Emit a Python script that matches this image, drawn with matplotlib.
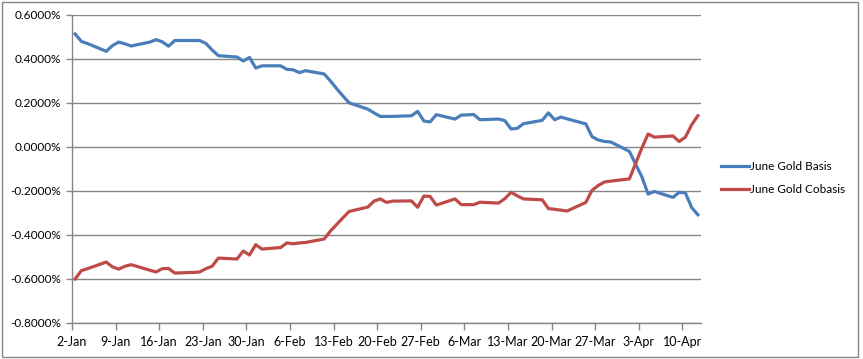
import datetime as dt
import matplotlib
matplotlib.use("Agg")
import matplotlib.pyplot as plt
import matplotlib.dates as mdates
from matplotlib.ticker import FuncFormatter, MultipleLocator
from matplotlib.patches import Rectangle

# trading days, 2013
dates = [
    "2013-01-02", "2013-01-03", "2013-01-04", "2013-01-07", "2013-01-08", "2013-01-09",
    "2013-01-10", "2013-01-11", "2013-01-14", "2013-01-15", "2013-01-16", "2013-01-17",
    "2013-01-18", "2013-01-21", "2013-01-22", "2013-01-23", "2013-01-24", "2013-01-25",
    "2013-01-28", "2013-01-29", "2013-01-30", "2013-01-31",
    "2013-02-01", "2013-02-04", "2013-02-05", "2013-02-06", "2013-02-07", "2013-02-08",
    "2013-02-11", "2013-02-12", "2013-02-13", "2013-02-14", "2013-02-15", "2013-02-18",
    "2013-02-19", "2013-02-20", "2013-02-21", "2013-02-22", "2013-02-25", "2013-02-26",
    "2013-02-27", "2013-02-28",
    "2013-03-01", "2013-03-04", "2013-03-05", "2013-03-06", "2013-03-07", "2013-03-08",
    "2013-03-11", "2013-03-12", "2013-03-13", "2013-03-14", "2013-03-15", "2013-03-18",
    "2013-03-19", "2013-03-20", "2013-03-21", "2013-03-22", "2013-03-25", "2013-03-26",
    "2013-03-27", "2013-03-28", "2013-03-29",
    "2013-04-01", "2013-04-02", "2013-04-03", "2013-04-04", "2013-04-05", "2013-04-08",
    "2013-04-09", "2013-04-10", "2013-04-11", "2013-04-12",
]

# values in percent
basis = [
    0.514, 0.480, 0.470, 0.435, 0.461, 0.477, 0.469, 0.459, 0.477, 0.488, 0.478, 0.458,
    0.484, 0.484, 0.484, 0.471, 0.441, 0.415, 0.409, 0.391, 0.407, 0.359,
    0.369, 0.369, 0.353, 0.351, 0.338, 0.347, 0.332, 0.300, 0.265, 0.232, 0.201, 0.172,
    0.155, 0.139, 0.139, 0.139, 0.142, 0.162, 0.118, 0.114,
    0.147, 0.127, 0.145, 0.146, 0.148, 0.124, 0.127, 0.120, 0.082, 0.085, 0.106, 0.121,
    0.155, 0.124, 0.136, 0.128, 0.105, 0.047, 0.032, 0.025, 0.023,
    -0.020, -0.078, -0.135, -0.214, -0.202, -0.229, -0.206, -0.209, -0.275, -0.308,
]

cobasis = [
    -0.600, -0.562, -0.553, -0.523, -0.545, -0.555, -0.542, -0.535, -0.560, -0.568, -0.553, -0.552,
    -0.573, -0.570, -0.568, -0.553, -0.542, -0.505, -0.509, -0.473, -0.491, -0.444,
    -0.464, -0.457, -0.436, -0.440, -0.436, -0.434, -0.418, -0.382, -0.352, -0.322, -0.293, -0.273,
    -0.246, -0.236, -0.252, -0.246, -0.245, -0.274, -0.223, -0.225,
    -0.264, -0.236, -0.262, -0.262, -0.262, -0.251, -0.255, -0.235, -0.206, -0.222, -0.236, -0.240,
    -0.280, -0.283, -0.287, -0.291, -0.252, -0.197, -0.175, -0.159, -0.155,
    -0.145, -0.075, -0.005, 0.059, 0.045, 0.050, 0.025, 0.045, 0.101, 0.142,
]

plt.rcParams["font.family"] = ["Lato", "DejaVu Sans"]

# points sit in the middle of each day slot, like an Excel date axis
x = [dt.datetime.strptime(d, "%Y-%m-%d") + dt.timedelta(hours=12) for d in dates]

fig = plt.figure(figsize=(8.63, 3.59), dpi=100)
ax = fig.add_axes([72 / 863, 1 - 323 / 359, 629 / 863, 308 / 359])

ax.plot(x, basis, color="#4A7EBB", linewidth=2.3, label="June Gold Basis",
        solid_joinstyle="round")
ax.plot(x, cobasis, color="#BE4B48", linewidth=2.3, label="June Gold Cobasis",
        solid_joinstyle="round")

ax.set_xlim(dt.datetime(2013, 1, 2), dt.datetime(2013, 4, 13))
ax.set_ylim(-0.8, 0.6)

grid_col = "#868686"
ax.yaxis.set_major_locator(MultipleLocator(0.2))
ax.yaxis.set_major_formatter(FuncFormatter(lambda v, p: f"{v:.4f}%"))
ax.grid(axis="y", color=grid_col, linewidth=1)
ax.set_axisbelow(True)

# weekly ticks starting from the first date
ticks = [dt.datetime(2013, 1, 2) + dt.timedelta(days=7 * k) for k in range(15)]
ax.set_xticks(ticks)
ax.xaxis.set_major_formatter(FuncFormatter(
    lambda v, p: f"{mdates.num2date(v).day}-{mdates.num2date(v).strftime('%b')}"))

for s in ["top", "right"]:
    ax.spines[s].set_visible(False)
for s in ["left", "bottom"]:
    ax.spines[s].set_color(grid_col)
    ax.spines[s].set_linewidth(1)

ax.tick_params(axis="x", length=5, width=1, color=grid_col, pad=4, labelsize=9)
ax.tick_params(axis="y", length=4, width=1, color=grid_col, pad=4, labelsize=8.5)

fig.legend(loc="upper left", bbox_to_anchor=(716 / 863, 1 - 156 / 359), frameon=False,
           fontsize=8.5, handlelength=2.4, handletextpad=0.1, labelspacing=1.05,
           borderaxespad=0)

fig.patches.append(Rectangle((2 / 863, 2 / 359), 856 / 863, 355 / 359,
                             transform=fig.transFigure, fill=False,
                             edgecolor=grid_col, linewidth=1))

fig.savefig("out.png", dpi=100)
